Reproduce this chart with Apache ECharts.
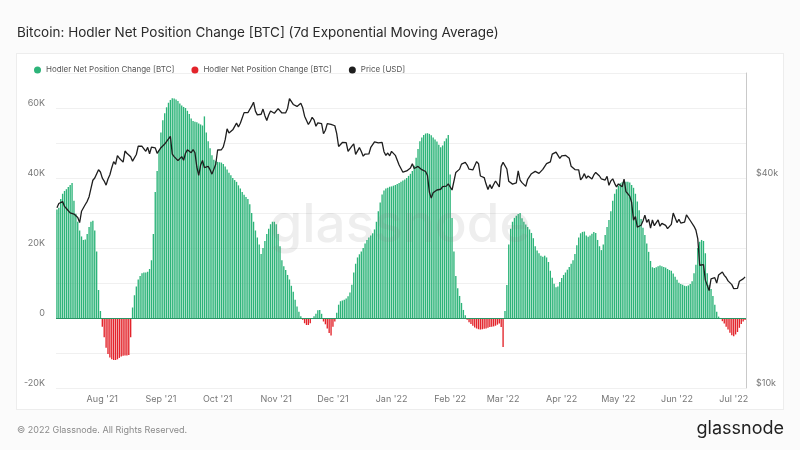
<!DOCTYPE html>
<html><head><meta charset="utf-8">
<script src="https://cdn.jsdelivr.net/npm/echarts/dist/echarts.min.js"></script>
<style>
html,body{margin:0;padding:0;background:#fbfbfb;}
#wrap{position:relative;width:800px;height:450px;}
#card{position:absolute;left:16px;top:53px;width:768px;height:357px;background:#fff;border:1px solid #ededed;box-sizing:border-box;}
#c{position:absolute;left:0;top:0;width:800px;height:450px;}
</style>
</head><body>
<div id="wrap"><div id="card"></div><div id="c"></div></div>
<script>
const startDate = [2021, 6, 8]; // 8 Jul 2021, daily
const monthLabels = ["Aug '21","Sep '21","Oct '21","Nov '21","Dec '21","Jan '22","Feb '22","Mar '22","Apr '22","May '22","Jun '22","Jul '22"];
const netPosition = [
31000,31500,34000,35500,36300,36800,37400,38000,38600,33500,
29800,27500,25000,23300,22300,22400,24000,26000,27500,27800,
25000,19000,8000,2000,-2500,-5500,-8500,-10300,-11300,-11800,
-12000,-12000,-11800,-11400,-11000,-10800,-10700,-10700,-10600,-5500,
3000,6500,9000,11000,12000,12800,13000,13000,13200,14000,
16500,24000,36000,42000,48000,53000,56500,58500,60200,61500,
62300,62800,62700,62400,62000,61300,60700,60300,60000,59200,
58300,57000,56300,56100,55900,55600,55300,55000,57600,53000,
50500,48500,46500,45200,44800,44600,44500,44400,44000,43300,
42400,41500,40800,40000,39400,38900,37900,37000,36000,35200,
34600,34000,32500,30000,27500,25000,23000,21000,18300,20000,
22000,24000,25500,26800,27500,27500,26800,24000,20500,16500,
14800,13700,12300,11000,9200,7500,5200,3300,1800,500,
-500,-1500,-2000,-2000,-1500,-300,500,1200,2200,2300,
1200,-1000,-1800,-3000,-4300,-5000,-2500,-1000,1500,3800,
4800,5000,5200,5600,6200,7300,9500,13000,15500,17300,
18200,19000,20000,21300,22300,23000,23600,24200,25300,27500,
30500,33000,35300,36400,37000,37200,37500,37600,37800,38000,
38300,38600,38900,39300,39600,40000,40600,41200,42000,43500,
45800,48300,50500,51600,52300,52700,52800,52600,52200,51600,
51000,50400,49500,48800,49300,50500,51300,52300,41000,28600,
19000,12000,8500,6300,4300,2300,800,-500,-1200,-1700,
-2200,-2700,-3000,-3200,-3300,-3200,-3100,-3000,-2800,-2600,
-2500,-2400,-2200,-1900,-1600,-2600,-8300,2000,9400,21000,
25500,27500,28600,29200,29700,30000,28500,27500,26700,26000,
25300,24300,22800,20500,19300,18500,17800,17500,17800,17300,
16000,13500,11500,9800,8800,9000,10300,11400,12300,13000,
13800,14600,15500,16500,18300,20800,23000,24200,24600,24700,
23600,23200,23600,24100,24600,24300,22300,20500,19400,21000,
23700,26000,28000,30500,33500,35500,36800,37800,38500,38800,
38900,38900,38900,38700,38000,37200,35500,33300,30800,28300,
25800,23700,21300,18900,16300,14500,14300,14500,14800,15000,
14800,14600,14400,14000,13700,13500,12700,11800,10900,10100,
9700,9500,9200,9100,9300,9700,10500,12800,15200,20000,
21800,22300,22000,18500,12800,9500,8300,6300,3800,1800,
400,-300,-900,-1600,-2500,-3300,-4200,-4900,-5200,-4700,
-4000,-2800,-1700,-1000,-600
];
const priceUSD = [
32877,33798,33520,34240,33155,32702,32822,31780,31421,31533,31796,30817,29807,32110,32314,33581,34292,35350,37337,39406,39995,40008,42235,41626,
39974,39201,38152,39747,40869,42816,44555,43798,46365,45585,45593,44429,47793,47096,47047,46004,44695,44801,46717,49339,48906,49321,49546,47706,48960,46942,49058,48897,48806,47074,47167,
48847,49328,50035,49947,51770,52678,46809,46079,46368,44847,45145,46063,44963,47092,48176,47784,47268,48278,47261,43013,40694,43574,44896,42840,42716,43208,42235,41034,41564,43790,
48116,47711,48199,49112,51514,55362,53805,53967,54968,54771,57485,56041,57401,57322,61593,60892,61553,62026,64262,65993,62211,60693,61393,60931,63040,60364,58482,60622,62228,61889,61319,
61005,63227,62970,61453,61125,61528,63327,67566,66971,64995,64950,64156,64469,65467,63557,60161,60368,56943,58119,59697,58731,56289,57570,57005,57229,53569,54816,57248,57807,57005,
57230,56477,53598,49254,49369,50582,50700,50504,47673,47244,49362,50098,46737,46612,48896,47666,46203,46849,46707,46880,48936,48628,50784,50822,50429,50809,50641,47588,46444,47178,46306,
47686,47345,46458,45897,43569,43160,41558,41734,41912,41821,42735,43950,42592,43099,43177,43113,42250,42375,41744,40681,36458,35030,36276,36654,36954,36852,37138,37784,38138,37917,38483,
38743,36952,37154,41500,41441,42412,43840,44118,44338,43565,42407,42244,42197,42586,44575,43961,40538,40030,40122,38431,37075,38286,37296,38332,39214,39106,37710,43194,
44355,43925,42452,39137,39400,38420,37989,38731,41942,39437,38795,38904,37850,39666,39338,41143,40951,41801,42191,41247,41077,42358,42892,43960,44349,44500,46820,47128,47465,47063,45538,
46281,45868,46453,46622,45555,43207,43503,42287,42782,42207,39521,40127,41166,39935,40553,40424,39716,40827,41503,41375,40527,39740,39486,39469,40458,38117,39242,39773,38609,37714,
38469,38529,37750,39698,36575,36040,35501,34059,30297,31023,28937,29048,29283,30102,31305,29863,30425,28720,30315,29200,29433,30323,29098,29655,29562,29268,28628,28814,29445,31726,31792,
29799,30468,29704,29833,29907,31371,31155,30214,30112,29083,28360,26762,22487,22206,22572,20381,20471,19017,20553,20600,20711,19988,21085,21231,21502,21028,20736,20280,20105,19785,
19269,19243,19297,20232,20190,20548,20800
];

const dates = [];
const d0 = Date.UTC(startDate[0], startDate[1], startDate[2]);
for (let i = 0; i < netPosition.length; i++) dates.push(new Date(d0 + i * 86400000).toISOString().slice(0, 10));
const labelFor = {};
let mi = 0;
dates.forEach(d => { if (d.endsWith('-01') && mi < monthLabels.length) labelFor[d] = monthLabels[mi++]; });

const FONT = 'Inter, "Noto Sans", sans-serif';
const LOG40 = Math.log10(4), LOGMAX = Math.log10(8);
const names = {pos: 'Hodler Net Position Change [BTC]', neg: 'Hodler Net Position Change [BTC]', price: 'Price [USD]'};

const chart = echarts.init(document.getElementById('c'), null, {renderer: 'canvas'});
chart.setOption({
  backgroundColor: 'transparent',
  animation: false,
  textStyle: {fontFamily: FONT},
  title: {
    text: 'Bitcoin: Hodler Net Position Change [BTC] (7d Exponential Moving Average)',
    left: 12, top: 21,
    textStyle: {fontSize: 13.5, fontWeight: 'normal', color: '#2b2b2b', fontFamily: FONT}
  },
  legend: {
    data: ['pos', 'neg', 'price'],
    formatter: n => names[n],
    left: 29, top: 61,
    icon: 'circle', itemWidth: 7, itemHeight: 7, itemGap: 17,
    textStyle: {fontSize: 8, color: '#555', fontFamily: FONT}
  },
  grid: {left: 56, right: 54, top: 73, bottom: 62, containLabel: false},
  xAxis: {
    type: 'category', data: dates, boundaryGap: true,
    axisLine: {show: false}, axisTick: {show: false},
    axisLabel: {
      interval: (idx, val) => labelFor[val] !== undefined,
      formatter: val => labelFor[val] || '',
      color: '#777', fontSize: 9, margin: 7, fontFamily: FONT
    },
    splitLine: {show: false}
  },
  yAxis: [{
    type: 'value', min: -20000, max: 70000, interval: 10000,
    axisLine: {show: false}, axisTick: {show: false},
    axisLabel: {
      formatter: v => (v % 20000 === 0 && v < 70000) ? (v === 0 ? '0' : (v / 1000) + 'K') : '',
      color: '#777', fontSize: 9, margin: 11, verticalAlign: 'bottom', fontFamily: FONT
    },
    splitLine: {lineStyle: {color: '#f0f0f0', width: 1}}
  }, {
    type: 'value', position: 'right', min: 0, max: LOGMAX, interval: LOG40,
    axisLine: {show: true, lineStyle: {color: '#c9c9c9', width: 1}}, axisTick: {show: false},
    axisLabel: {
      formatter: v => (Math.abs(v) < 1e-6 || Math.abs(v - LOG40) < 1e-6) ? '$' + Math.round(Math.pow(10, v) * 10) + 'k' : '',
      color: '#777', fontSize: 9, margin: 10, verticalAlign: 'bottom', fontFamily: FONT
    },
    splitLine: {show: false}
  }],
  series: [{
    name: 'pos', type: 'bar', yAxisIndex: 0, barWidth: '72%', barGap: '-100%',
    itemStyle: {color: '#2db479'},
    data: netPosition.map(v => v >= 0 ? v : '-'),
    markLine: {
      silent: true, symbol: 'none', label: {show: false},
      lineStyle: {color: '#2a9464', width: 1, type: 'solid'},
      data: [{yAxis: 0}]
    }
  }, {
    name: 'neg', type: 'bar', yAxisIndex: 0, barWidth: '72%', barGap: '-100%',
    itemStyle: {color: '#e3242b'},
    data: netPosition.map(v => v < 0 ? v : '-')
  }, {
    name: 'price', type: 'line', yAxisIndex: 1, showSymbol: false, symbol: 'circle', z: 5,
    itemStyle: {color: '#1e1e1e'},
    lineStyle: {color: '#1e1e1e', width: 1.3},
    data: priceUSD.map(p => Math.log10(p / 10000))
  }],
  graphic: [{
    type: 'text', left: 'center', top: 200, z: 10, silent: true,
    style: {text: 'glassnode', fontSize: 53, fontWeight: 500, fontFamily: FONT, fill: 'rgba(120,120,120,0.13)'}
  }, {
    type: 'text', left: 17, top: 426,
    style: {text: '\u00A9 2022 Glassnode. All Rights Reserved.', fontSize: 9, fontFamily: FONT, fill: '#8a8a8a'}
  }, {
    type: 'text', right: 16, top: 420,
    style: {text: 'glassnode', fontSize: 18, fontWeight: 'normal', fontFamily: FONT, fill: '#222'}
  }]
});
</script>
</body></html>
